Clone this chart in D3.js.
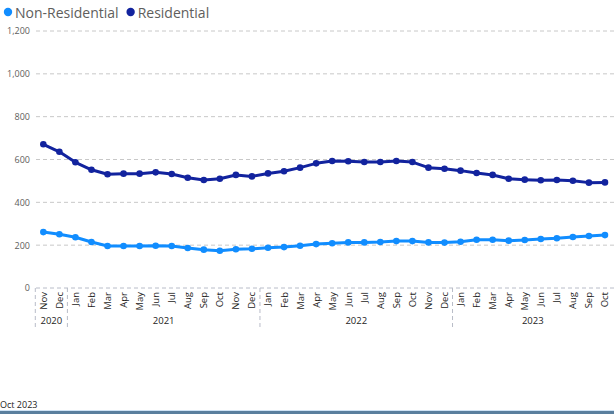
<!DOCTYPE html>
<html><head><meta charset="utf-8">
<script src="https://cdn.jsdelivr.net/npm/d3@7"></script>
<style>body{margin:0;background:#fff}svg{display:block}</style>
</head><body><svg id="c" width="614" height="414"></svg>
<script>
const months = ["Nov","Dec","Jan","Feb","Mar","Apr","May","Jun","Jul","Aug","Sep","Oct","Nov","Dec","Jan","Feb","Mar","Apr","May","Jun","Jul","Aug","Sep","Oct","Nov","Dec","Jan","Feb","Mar","Apr","May","Jun","Jul","Aug","Sep","Oct"];
const years = ["2020","2020","2021","2021","2021","2021","2021","2021","2021","2021","2021","2021","2021","2021","2022","2022","2022","2022","2022","2022","2022","2022","2022","2022","2022","2022","2023","2023","2023","2023","2023","2023","2023","2023","2023","2023"];
const nonResidential = [261,251,237,215,196,196,196,197,196,187,179,174,181,183,188,191,197,205,209,213,213,215,219,219,213,212,216,225,225,221,224,229,232,238,243,247];
const residential = [671,636,587,552,531,534,534,540,532,515,504,510,528,521,535,545,562,582,593,592,588,588,593,588,562,557,548,537,528,510,506,503,504,501,492,493];
const yTicks = [0,200,400,600,800,1000,1200];
const seriesNames = ["Non-Residential","Residential"];
const colors = ["#118DFF","#12239E"];
const footer = "Oct 2023";

const svg = d3.select("#c");
const font = "'Open Sans', 'Noto Sans', sans-serif";
const idx = d3.range(months.length);
const x = d3.scalePoint().domain(idx).range([35.3, 613]).padding(0.5);
const step = x.step();
const y = d3.scaleLinear().domain([0,1200]).range([288,31]);

// gridlines
const yAxis = d3.axisLeft(y).tickValues(yTicks).tickSize(0).tickPadding(0).tickFormat(d3.format(","));
const ga = svg.append("g").attr("transform","translate(30,0)").call(yAxis);
ga.select(".domain").remove();
ga.selectAll("text").attr("font-family",font).attr("font-size",9).attr("fill","#605E5C").attr("dy","0.32em");
svg.append("g").selectAll("line").data(yTicks).join("line")
  .attr("x1",36).attr("x2",614).attr("y1",d=>y(d)).attr("y2",d=>y(d))
  .attr("stroke",d=>d===0?"#b8bcc8":"#c8c8c8").attr("stroke-dasharray","4,3").attr("stroke-width",1);

// month labels
svg.append("g").selectAll("text").data(idx).join("text")
  .attr("transform",i=>`translate(${x(i)+3.5},292) rotate(-90)`)
  .attr("text-anchor","end").attr("font-family",font).attr("font-size",9.5).attr("fill","#252423")
  .text(i=>months[i]);

// year groups
const groups = d3.groups(idx, i=>years[i]);
const sepX = [35.3];
groups.forEach(([yr, arr])=>{ sepX.push(x(arr[arr.length-1])+step/2); });
svg.append("g").selectAll("line").data(sepX.slice(0,-1)).join("line")
  .attr("x1",d=>d).attr("x2",d=>d).attr("y1",288).attr("y2",327)
  .attr("stroke","#b8bcc8").attr("stroke-dasharray","4,3");
svg.append("g").selectAll("text").data(groups).join("text")
  .attr("x",([yr,arr])=>(x(arr[0])+x(arr[arr.length-1]))/2).attr("y",324)
  .attr("text-anchor","middle").attr("font-family",font).attr("font-size",9.5).attr("fill","#252423")
  .text(([yr])=>yr);

// lines
const line = d3.line().x((d,i)=>x(i)).y(d=>y(d)).curve(d3.curveLinear);
[nonResidential, residential].forEach((data,k)=>{
  svg.append("path").datum(data).attr("d",line).attr("fill","none")
    .attr("stroke",colors[k]).attr("stroke-width",3).attr("stroke-linejoin","round");
  svg.append("g").selectAll("circle").data(data).join("circle")
    .attr("cx",(d,i)=>x(i)).attr("cy",d=>y(d)).attr("r",3.3).attr("fill",colors[k]);
});

// legend
const lg = svg.append("g");
let lx = 8;
seriesNames.forEach((n,k)=>{
  lg.append("circle").attr("cx",lx).attr("cy",12).attr("r",4.2).attr("fill",colors[k]);
  const t = lg.append("text").attr("x",lx+7).attr("y",17.5).attr("font-family",font)
    .attr("font-size",14).attr("fill","#605E5C").text(n);
  lx += t.node().getComputedTextLength() + 19;
});

// footer
svg.append("text").attr("x",0).attr("y",408).attr("font-family",font).attr("font-size",9)
  .attr("fill","#252423").text(footer);
svg.append("rect").attr("x",0).attr("y",410).attr("width",614).attr("height",1).attr("fill","#cfe3f5");
svg.append("rect").attr("x",0).attr("y",411).attr("width",614).attr("height",3).attr("fill","#5a7f9e");
</script></body></html>
